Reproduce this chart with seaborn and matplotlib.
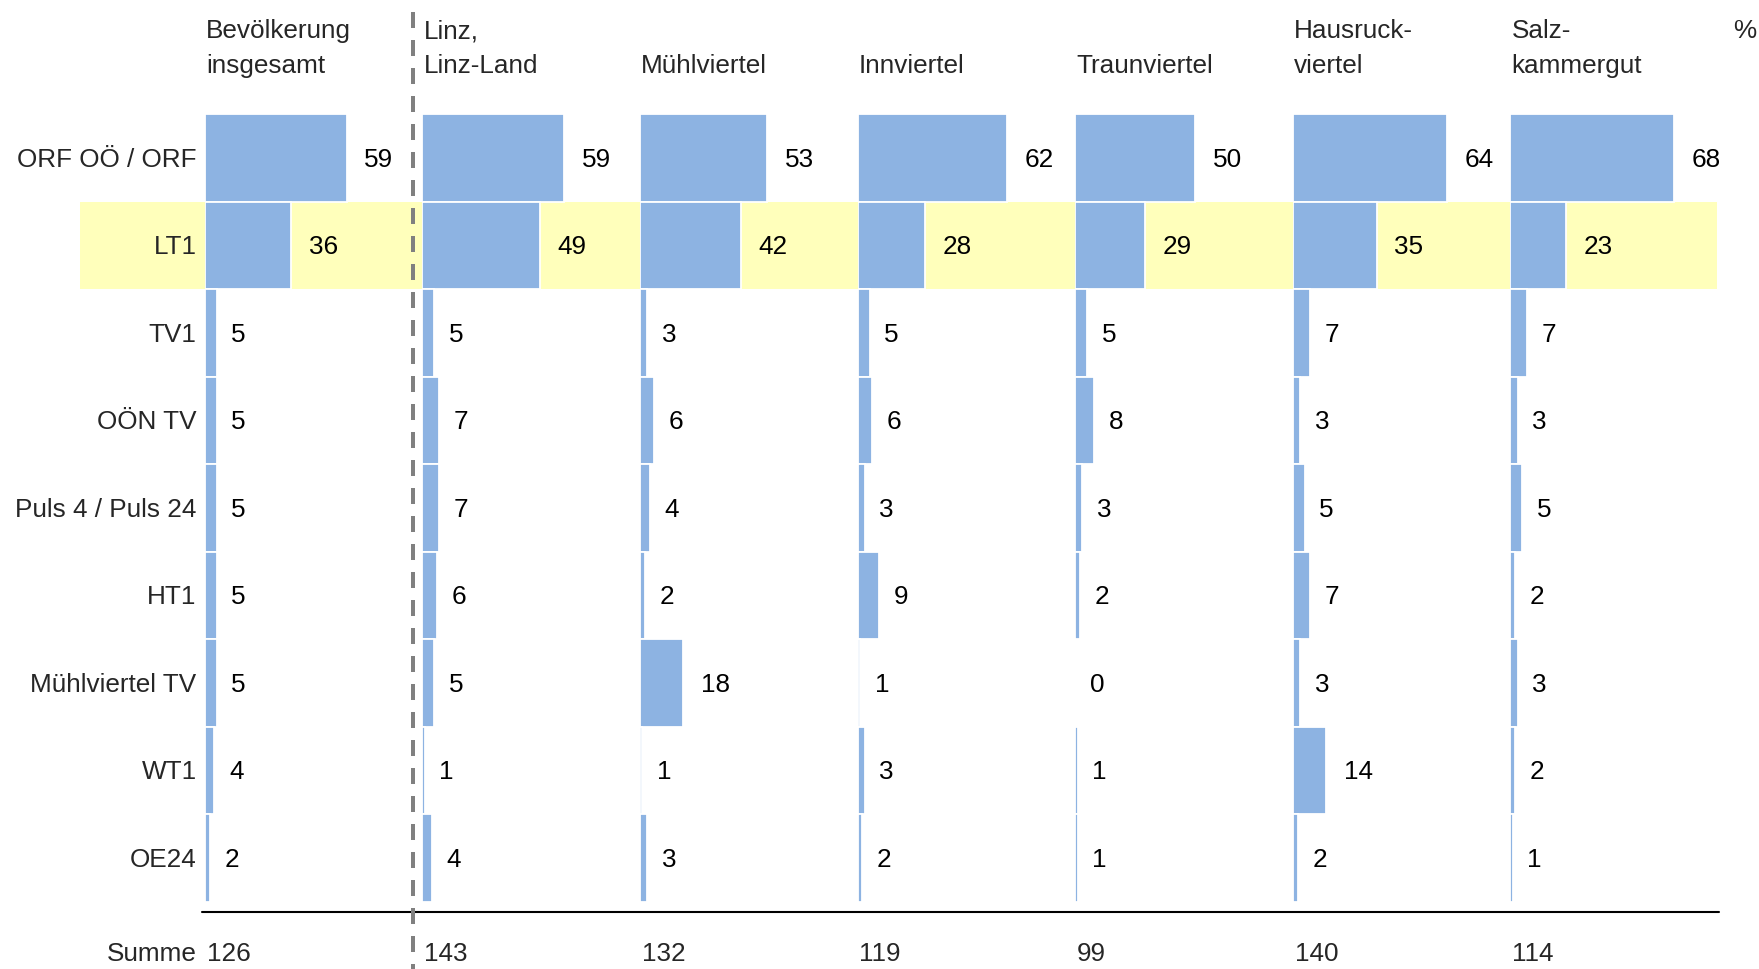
import matplotlib
matplotlib.use("Agg")
import matplotlib.pyplot as plt
import seaborn as sns
import pandas as pd
from matplotlib.patches import Rectangle
from matplotlib.lines import Line2D

# ---------------- data ----------------
channels = ["ORF OÖ / ORF", "LT1", "TV1", "OÖN TV", "Puls 4 / Puls 24",
            "HT1", "Mühlviertel TV", "WT1", "OE24"]
header_lines = [("Bevölkerung", "insgesamt"), ("Linz,", "Linz-Land"),
                ("", "Mühlviertel"), ("", "Innviertel"), ("", "Traunviertel"),
                ("Hausruck-", "viertel"), ("Salz-", "kammergut")]
gesamt = [59, 36, 5, 5, 5, 5, 5, 4, 2]
linz = [59, 49, 5, 7, 7, 6, 5, 1, 4]
muehlviertel = [53, 42, 3, 6, 4, 2, 18, 1, 3]
innviertel = [62, 28, 5, 6, 3, 9, 1, 3, 2]
traunviertel = [50, 29, 5, 8, 3, 2, 0, 1, 1]
hausruckviertel = [64, 35, 7, 3, 5, 7, 3, 14, 2]
salzkammergut = [68, 23, 7, 3, 5, 2, 3, 2, 1]
summe = [126, 143, 132, 119, 99, 140, 114]
panels = [gesamt, linz, muehlviertel, innviertel, traunviertel,
          hausruckviertel, salzkammergut]

BLUE = "#8DB3E2"
YELLOW = "#FFFFBB"
FS = 18.8

sns.set_theme(style="white")
plt.rcParams["font.family"] = ["Liberation Sans", "DejaVu Sans"]

W, H = 1759, 969
fig = plt.figure(figsize=(W / 100, H / 100), dpi=100)
fig.patch.set_facecolor("white")

def fx(px):
    return px / W

def fy(px):
    return 1 - px / H

# layout (pixels)
x0 = 204.7
pw = 217.6
ppu = 2.406              # pixels per percent
top, bot = 114.4, 902.0
rowh = (bot - top) / 9
xmax = pw / ppu

def row_of(px):
    return (px - (top + rowh / 2)) / rowh

base_off = 8.5 / rowh

axes = []
for i, vals in enumerate(panels):
    ax = fig.add_axes([fx(x0 + i * pw), fy(bot), pw / W, (bot - top) / H])
    ax.set_facecolor("none")
    df = pd.DataFrame({"Sender": channels, "Wert": vals})
    sns.barplot(data=df, x="Wert", y="Sender", order=channels, orient="h",
                color=BLUE, saturation=1, width=1.0, edgecolor="white",
                linewidth=1.3, ax=ax)
    ax.set_xlim(0, xmax)
    ax.set_ylim(8.5, -0.5)
    ax.axis("off")
    for j, v in enumerate(vals):
        off = 6.1 if v < 10 else 7.3
        ax.text(v + off, j + base_off, str(v), ha="left", va="baseline",
                fontsize=FS, color="black", clip_on=False)
    # header
    l1, l2 = header_lines[i]
    ax.text(0.6, row_of(38.3), l1, ha="left", va="baseline", fontsize=FS,
            clip_on=False)
    ax.text(0.6, row_of(72.7), l2, ha="left", va="baseline", fontsize=FS,
            clip_on=False)
    # Summe
    ax.text(0.8, row_of(961), str(summe[i]), ha="left", va="baseline",
            fontsize=FS, clip_on=False)
    axes.append(ax)

ax0 = axes[0]
for j, ch in enumerate(channels):
    ax0.text(-3.4, j + base_off, ch, ha="right", va="baseline", fontsize=FS,
             clip_on=False)
ax0.text(-3.4, row_of(961), "Summe", ha="right", va="baseline", fontsize=FS,
         clip_on=False)

fig.text(fx(1756), fy(38.3), "%", ha="right", va="baseline", fontsize=FS)

# yellow highlight band for LT1
fig.add_artist(Rectangle((fx(79.6), fy(top + 2 * rowh)), (1717 - 79.6) / W,
                         rowh / H, transform=fig.transFigure,
                         facecolor=YELLOW, edgecolor="none", zorder=-1))

# bottom rule
fig.add_artist(Line2D([fx(202), fx(1719)], [fy(911.5), fy(911.5)],
                      transform=fig.transFigure, color="black", lw=1.5,
                      zorder=3))

# dashed separator
fig.add_artist(Line2D([fx(412.7), fx(412.7)], [fy(12), fy(969)],
                      transform=fig.transFigure, color="#808080", lw=2.88,
                      linestyle=(0, (4, 3)), zorder=5))

fig.savefig("out.png", dpi=100, facecolor="white")
